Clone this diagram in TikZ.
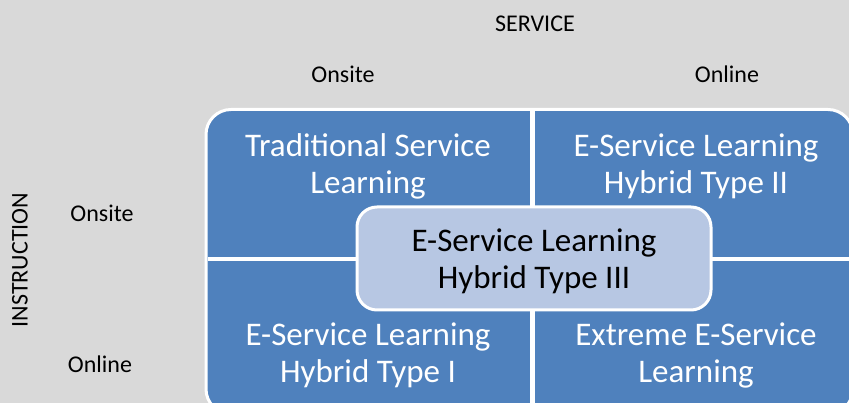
\documentclass[tikz,border=0pt]{standalone}
\usepackage{fontspec}
\setmainfont{Carlito}
\usetikzlibrary{positioning}
\definecolor{bggray}{HTML}{D9D9D9}
\definecolor{quadblue}{HTML}{4F81BD}
\definecolor{hubblue}{HTML}{B7C7E3}
\tikzset{axis/.style={font=\fontsize{24}{29}\selectfont,text=black,inner sep=0pt}}
\tikzset{quad/.style={font=\fontsize{33}{37}\selectfont,text=white,align=center,inner sep=0pt}}
\tikzset{hub/.style={draw=white,line width=3pt,fill=hubblue,rounded corners=20pt,minimum width=354pt,minimum height=103pt,align=center,font=\fontsize{33}{37}\selectfont,text=black}}

\begin{document}
\begin{tikzpicture}[x=1pt,y=-1pt]
    \useasboundingbox (0,0) rectangle (849,403);
    \fill[bggray] (0,0) rectangle (849,403);
    % matrix
    \begin{scope}
        \clip (0,0) rectangle (849,403);
        \draw[white,line width=3pt,fill=quadblue,rounded corners=25pt] (206,109.5) rectangle (853,414);
    \end{scope}
    \coordinate (vtop) at (532.5,111);
    \coordinate (vbot) at (532.5,403);
    \coordinate (hleft) at (207.5,259.5);
    \coordinate (hright) at (849,259.5);
    \draw[white,line width=4.5pt] (vtop) -- (vbot);
    \draw[white,line width=4pt] (hleft) -- (hright);

    \node[axis] (service) at (535,24) {SERVICE};
    \node[axis] (colon) at (343,74) {Onsite};
    \node[axis] (coloff) at (727,74) {Online};
    \node[axis,rotate=90] (instr) at (20,260) {INSTRUCTION};
    \node[axis] (rowon) at (102,213) {Onsite};
    \node[axis] (rowoff) at (100,364) {Online};

    \node[quad] (trad) at (368,166) {Traditional Service\\Learning};
    \node[quad] (typetwo) at (696,166) {E-Service Learning\\Hybrid Type II};
    \node[quad] (typeone) at (368,355) {E-Service Learning\\Hybrid Type I};
    \node[quad] (extreme) at (696,355) {Extreme E-Service\\Learning};

    \node[hub] (typethree) at (534,258.5) {\rule{0pt}{28pt}E-Service Learning\\Hybrid Type III};
\end{tikzpicture}
\end{document}
